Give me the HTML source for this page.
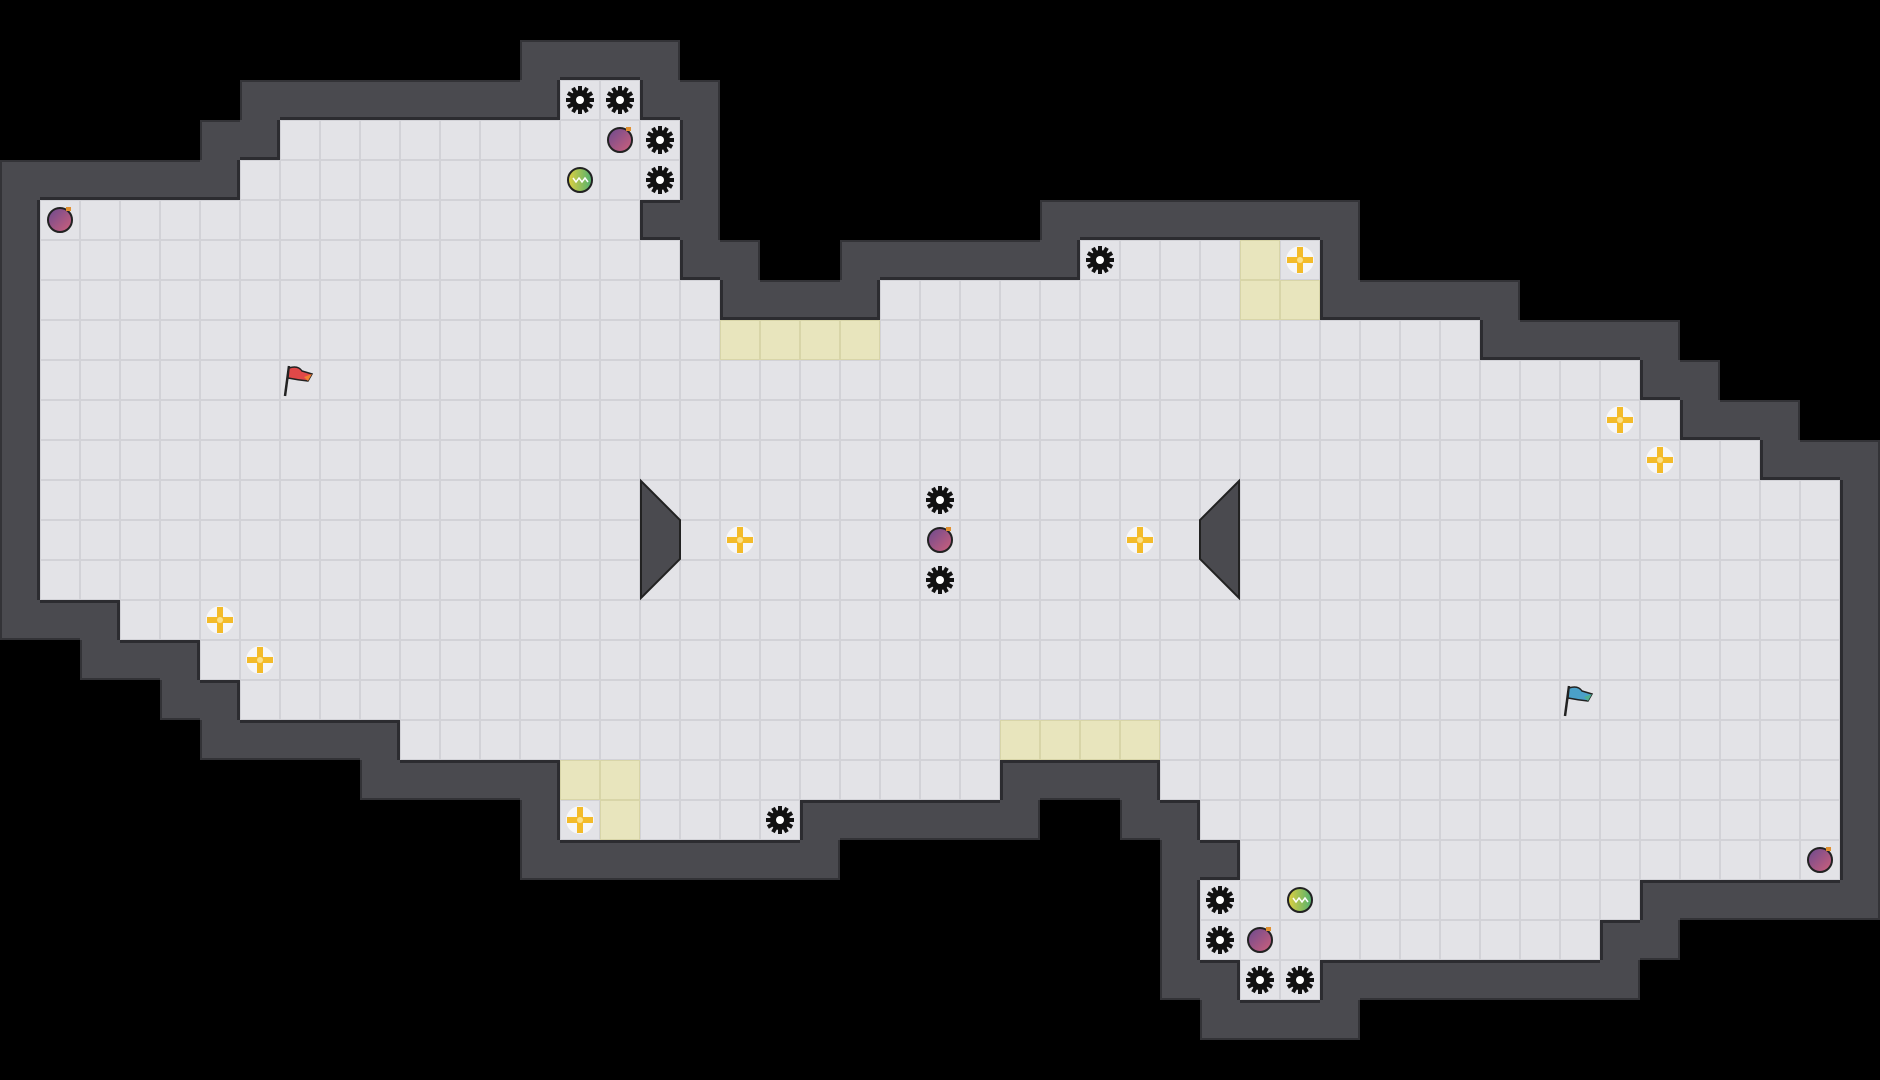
<!DOCTYPE html>
<html><head><meta charset="utf-8">
<style>
html,body{margin:0;padding:0;background:#000;width:1880px;height:1080px;overflow:hidden;font-family:"Liberation Sans",sans-serif}
#m{position:relative;width:1880px;height:1080px}
.c{position:absolute;width:40px;height:40px;box-sizing:border-box}
.f{background:#e3e3e7;border:1px solid #d2d2d7}
.y{background:#e8e5bd;border:1px solid #d8d5a8}
.w{background:#4a4a4f}
.it{position:absolute;width:40px;height:40px;display:flex;align-items:center;justify-content:center}
</style></head><body><div id="m"></div>
<script>
var rows={2:[[14,15]],3:[[7,16]],4:[[6,16]],5:[[1,15]],6:[[1,16],[27,32]],7:[[1,17],[22,32]],8:[[1,36]],9:[[1,40]],10:[[1,41]],11:[[1,43]],12:[[1,45]],13:[[1,45]],14:[[1,45]],15:[[3,45]],16:[[5,45]],17:[[6,45]],18:[[10,45]],19:[[14,24],[29,45]],20:[[14,19],[30,45]],21:[[31,45]],22:[[30,40]],23:[[30,39]],24:[[31,32]]};
var yel={"7,31":1,"6,31":1,"7,32":1,"8,18":1,"8,19":1,"8,20":1,"8,21":1,"18,25":1,"18,26":1,"18,27":1,"18,28":1,"19,14":1,"19,15":1,"20,15":1};
var F={};
for(var r in rows)rows[r].forEach(function(s){for(var c=s[0];c<=s[1];c++)F[r+","+c]=1;});
var W={};
for(var r=0;r<27;r++)for(var c=0;c<47;c++){if(F[r+","+c])continue;for(var a=-1;a<=1;a++)for(var b=-1;b<=1;b++)if(F[(r+a)+","+(c+b)])W[r+","+c]=1;}
var m=document.getElementById('m'),h='';
for(var r=0;r<27;r++)for(var c=0;c<47;c++){
 var k=r+","+c;
 if(F[k]){h+='<div class="c '+(yel[k]?'y':'f')+'" style="left:'+c*40+'px;top:'+r*40+'px"></div>';}
 else if(W[k]){
  var sh=[];
  var d=[[-1,0,'0 3px'],[1,0,'0 -3px'],[0,-1,'3px 0'],[0,1,'-3px 0']];
  d.forEach(function(q){var kk=(r+q[0])+","+(c+q[1]);
   if(F[kk])sh.push('inset '+q[2]+' 0 #2c2c30');
   else if(!W[kk])sh.push('inset '+q[2].replace('3px','2px')+' 0 #333337');});
  h+='<div class="c w" style="left:'+c*40+'px;top:'+r*40+'px;box-shadow:'+sh.join(',')+'"></div>';}
}
function gear(){var s='<svg width="30" height="30" viewBox="-15 -15 30 30">';for(var i=0;i<12;i++)s+='<rect x="-2" y="-14" width="4" height="6" fill="#111" transform="rotate('+i*30+')"/>';return s+'<circle r="10" fill="#111"/><circle r="4" fill="#fff"/></svg>';}
function bomb(){return '<svg width="32" height="32" viewBox="-16 -16 32 32"><defs><linearGradient id="bg" x1="0" y1="0" x2="1" y2="1"><stop offset="0" stop-color="#6a4a90"/><stop offset="1" stop-color="#d0607a"/></linearGradient></defs><circle r="12" fill="url(#bg)" stroke="#222" stroke-width="2"/><rect x="6" y="-13" width="5" height="4" fill="#e09030"/></svg>';}
function green(){return '<svg width="32" height="32" viewBox="-16 -16 32 32"><defs><linearGradient id="gg" x1="0" y1="0" x2="1" y2="0"><stop offset="0" stop-color="#e0d040"/><stop offset="1" stop-color="#50b070"/></linearGradient></defs><circle r="12" fill="url(#gg)" stroke="#222" stroke-width="2"/><path d="M-7 -2 l3 4 l3 -4 l3 4 l3 -4 l3 4" stroke="#fff" fill="none" stroke-width="1.5"/></svg>';}
function plus(){return '<svg width="34" height="34" viewBox="-17 -17 34 34"><circle r="14" fill="#fff" opacity="0.7"/><path d="M-3 -13h6v10h10v6h-10v10h-6v-10h-10v-6h10z" fill="#f3bb2a"/><circle r="3" fill="#fbe08a"/></svg>';}
function flag(col,col2){return '<svg width="40" height="40" viewBox="0 0 40 40"><line x1="9" y1="6" x2="5" y2="36" stroke="#222" stroke-width="2.5"/><path d="M9 8 Q18 5 22 11 L32 14 L28 21 Q18 20 8 18z" fill="'+col+'" stroke="#222" stroke-width="1.5"/><path d="M24 17 L32 14 L28 21z" fill="'+col2+'"/></svg>';}
function put(c,r,s){h+='<div class="it" style="left:'+c*40+'px;top:'+r*40+'px">'+s+'</div>';}
[[14,2],[15,2],[16,3],[16,4],[27,6],[23,12],[23,14],[19,20],[30,22],[30,23],[31,24],[32,24]].forEach(function(p){put(p[0],p[1],gear());});
[[15,3],[1,5],[23,13],[31,23],[45,21]].forEach(function(p){put(p[0],p[1],bomb());});
[[14,4],[32,22]].forEach(function(p){put(p[0],p[1],green());});
[[32,6],[40,10],[41,11],[18,13],[28,13],[5,15],[6,16],[14,20]].forEach(function(p){put(p[0],p[1],plus());});
put(7,9,flag('#e04848','#f08030'));put(39,17,flag('#4aa0c8','#50b090'));
h+='<svg style="position:absolute;left:0;top:0" width="1880" height="1080"><polygon points="641,481 680,520 680,559 641,598" fill="#4a4a4f" stroke="#222" stroke-width="2"/><polygon points="1239,481 1200,520 1200,559 1239,598" fill="#4a4a4f" stroke="#222" stroke-width="2"/></svg>';
m.innerHTML=h;
</script></body></html>
